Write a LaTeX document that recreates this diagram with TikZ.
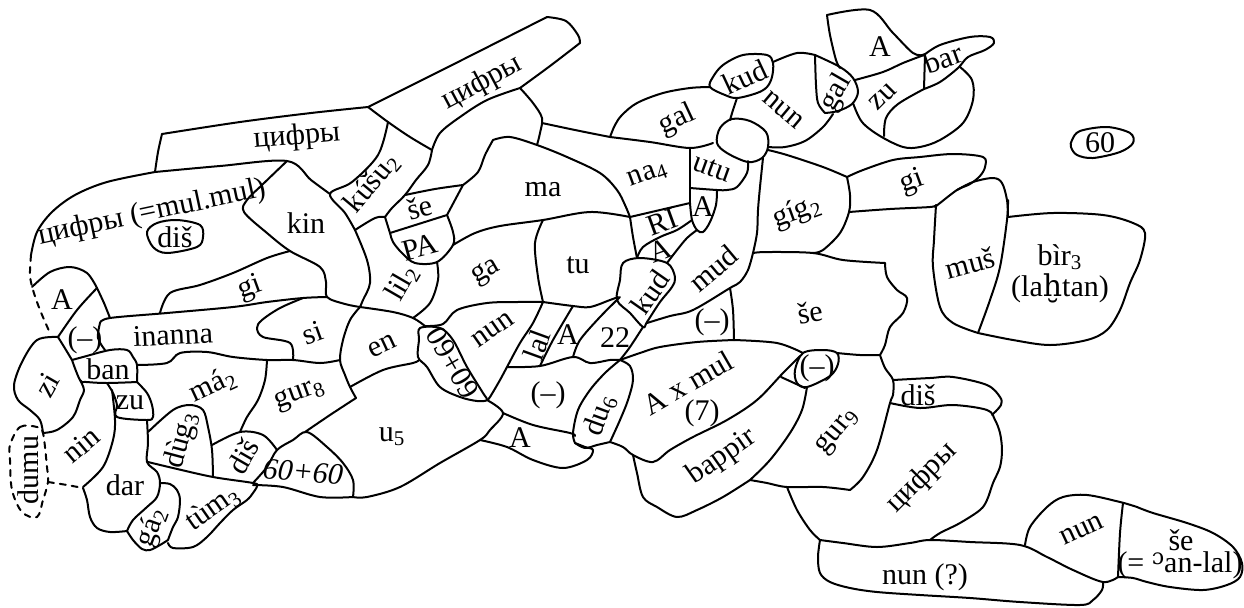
\documentclass[tikz,border=0pt]{standalone}
\usepackage{fontspec}
\setmainfont{Liberation Serif}
\newfontfamily\dvs{DejaVu Serif}
\newcommand\sbs[1]{\textsubscript{#1}}
\newcommand\pth[1]{\draw[ln] plot[smooth,tension=.55] coordinates {#1};}
\newcommand\pthc[1]{\draw[ln] plot[smooth cycle,tension=.55] coordinates {#1};}
\newcommand\pthd[1]{\draw[ln,dashed] plot[smooth,tension=.55] coordinates {#1};}
\newcommand\pthdc[1]{\draw[ln,dashed] plot[smooth cycle,tension=.55] coordinates {#1};}
\tikzset{
  ln/.style={line width=1pt,line join=round,line cap=round},
  lab/.style={font=\fontsize{15}{16}\selectfont,inner sep=0pt,align=center}
}
\begin{document}
\begin{tikzpicture}[x=0.5pt,y=-0.5pt]
\useasboundingbox (0,0) rectangle (1244,607);
% ---------- upper left bands
\pth{(155,172)(158,152)(162,134)}
\pth{(162,134)(240,122)(311,113)(368,107)}
\pth{(368,107)(460,61)(547,17)}
\pth{(547,17)(566,21)(578,35)(580,43)}
\pth{(580,43)(550,66)(520,88)}
\pth{(520,88)(487,100)(460,117)(440,133)(432,150)}
\pth{(368,107)(388,122)(410,137)(432,150)}
\pth{(388,122)(378,155)(352,182)(330,194)(345,213)(355,230)}
\pth{(155,172)(220,166)(287,161)(311,180)(330,194)}
\pth{(287,161)(262,185)(247,200)(244,212)(267,233)(290,251)(320,267)(326,282)(327,297)(345,304)(360,307)}
\pth{(355,230)(367,260)(370,283)(363,300)(360,307)}
\pth{(355,230)(375,218)(385,217)}
\pth{(432,150)(428,165)(416,180)(405,195)(392,208)(385,217)}
\pth{(385,217)(390,233)(393,242)(402,253)(415,263)(437,262)(453,245)(453,232)(447,215)}
\pth{(390,233)(447,215)}
\pth{(405,195)(435,189)(463,185)}
\pth{(463,185)(455,200)(447,215)}
\pth{(493,140)(485,155)(478,172)(463,185)}
\pth{(493,140)(510,137)(537,145)(567,157)(600,173)(617,190)(625,205)(630,217)}
\pth{(520,88)(533,103)(542,118)(540,133)(537,145)}
\pth{(542,123)(575,130)(610,137)}
\pth{(610,137)(650,142)(690,148)(713,143)}
\pth{(610,137)(615,125)(622,115)(637,103)(663,93)(690,88)(710,87)}
\pthc{(710,87)(713,77)(723,65)(743,55)(767,55)(773,63)(772,77)(767,87)(757,93)(737,98)(725,95)}
\pth{(737,98)(733,110)(730,120)}
\pthc{(717,143)(720,128)(732,119)(750,121)(766,132)(768,147)(762,158)(748,162)(727,153)}
\pth{(773,62)(797,53)(815,55)}
\pth{(815,55)(816,85)(818,103)(825,113)}
\pth{(815,55)(840,67)(853,78)(858,92)(852,104)(838,111)(825,113)}
\pth{(768,147)(785,147)(805,141)(823,127)(833,114)}
\pth{(827,15)(870,10)(893,33)(913,53)(924,55)}
\pth{(827,15)(830,35)(836,60)(840,68)}
\pth{(855,80)(883,72)(903,63)(924,55)}
\pth{(924,55)(940,45)(970,37)(990,37)(994,43)(985,50)(968,57)(958,68)(940,82)(924,89)}
\pth{(925,55)(924,89)}
\pth{(853,103)(862,122)(880,136)(903,147)(920,147)(940,140)(963,123)(973,100)(972,80)(960,67)}
\pth{(884,136)(886,118)(898,104)(924,89)}
\pthc{(1072,140)(1080,131)(1107,127)(1130,133)(1133,143)(1120,152)(1093,158)(1077,155)(1071,147)}
% ---------- middle
\pth{(748,161)(747,173)(737,187)(727,190)(717,190)(690,188)}
\pth{(690,148)(690,188)(690,203)}
\pth{(717,190)(716,205)(710,222)(703,232)(697,230)(692,220)(690,203)}
\pth{(630,217)(660,210)(690,203)}
\pth{(692,220)(677,230)(660,237)(643,247)(637,258)}
\pth{(697,230)(687,238)(677,250)(667,263)}
\pthc{(623,263)(640,258)(667,263)(675,277)(672,287)(660,302)(647,322)(643,327)(630,313)(617,300)(620,280)}
\pth{(630,217)(633,237)(637,258)}
\pth{(543,302)(573,306)(590,307)(610,300)(618,297)}
\pth{(543,220)(535,243)(538,277)(543,302)}
\pth{(453,245)(475,233)(500,226)(543,220)(590,212)(630,217)}
\pth{(437,262)(438,280)(430,303)(413,318)}
\pth{(360,307)(393,312)(413,318)(425,326)}
\pth{(425,326)(443,324)(457,310)(487,303)(517,302)(543,302)}
\pthc{(420,328)(440,328)(453,340)(467,367)(483,393)(487,400)(477,401)(460,397)(440,387)(427,367)(418,357)(419,340)}
\pth{(543,302)(533,323)(520,343)(507,367)(500,380)(490,397)(487,400)}
\pth{(573,306)(553,340)(540,366)}
\pth{(620,297)(600,317)(580,340)(573,357)}
\pth{(507,367)(540,366)(573,357)(590,363)(610,360)(620,360)}
\pth{(643,327)(630,347)(620,360)}
\pth{(647,323)(670,316)(693,310)(730,288)(740,282)(748,270)(753,253)}
\pth{(763,158)(760,187)(758,210)(757,233)(753,253)}
\pth{(768,150)(787,155)(823,167)(847,177)}
\pth{(847,177)(863,170)(893,160)(920,157)(953,154)(983,157)(985,167)(980,176)(970,184)(957,190)(940,203)(935,207)}
\pth{(847,177)(850,195)(849,212)(840,233)(823,250)(813,253)}
\pth{(849,212)(890,209)(930,207)(936,205)}
\pth{(957,190)(973,182)(993,178)(1002,183)(1007,200)(1008,217)}
\pth{(936,205)(934,240)(933,267)(940,307)(953,323)(978,333)}
\pth{(1008,200)(1007,220)(1000,267)(990,300)(978,333)}
\pth{(1008,217)(1053,213)(1103,215)(1133,223)(1145,233)(1140,260)(1130,283)(1120,310)(1107,330)(1087,340)(1050,345)(1013,340)(978,333)}
\pth{(753,253)(767,252)(813,253)(843,260)(885,263)}
\pth{(885,263)(887,277)(897,290)(907,298)(903,313)(890,327)(885,345)(880,355)}
\pth{(730,288)(733,310)(734,340)}
\pth{(734,340)(777,343)(803,353)}
\pth{(837,353)(860,355)(880,355)}
\pthc{(803,353)(823,350)(837,353)(838,364)(830,376)(807,387)(797,383)(795,370)}
\pth{(620,360)(640,353)(660,347)(697,342)(734,340)}
\pth{(620,360)(630,366)(633,380)(628,400)(620,420)(610,442)}
\pth{(620,360)(605,373)(590,390)(578,410)(573,433)(575,443)}
\pth{(575,443)(585,448)(597,445)(610,442)}
\pth{(610,442)(623,447)(633,455)(653,462)(670,450)(693,437)(727,420)(757,400)(783,373)(800,356)}
\pth{(781,377)(805,388)}
\pth{(633,455)(637,473)(643,497)(657,507)(677,517)(697,510)(723,497)(750,480)}
\pth{(807,387)(802,410)(790,433)(770,460)(750,480)}
\pth{(750,480)(767,483)(787,487)(823,487)(850,490)}
\pth{(787,487)(797,510)(810,530)(820,540)}
\pth{(880,355)(885,368)(893,380)(893,395)(890,403)(877,450)(863,477)(850,490)}
\pth{(893,380)(930,378)(953,377)(987,385)(1000,397)(1001,405)(992,415)}
\pth{(890,403)(920,408)(953,405)(987,410)(995,420)(1000,433)(1002,450)(1000,467)(993,483)(987,500)(980,510)(960,523)(940,533)(930,540)}
\pth{(820,540)(843,543)(877,547)(910,543)(930,540)(970,542)(1020,545)(1047,557)(1073,570)(1103,582)(1118,577)}
\pth{(820,540)(818,557)(820,573)(830,582)(850,588)(877,592)(920,595)(970,598)(1020,602)(1080,605)(1093,600)(1102,590)(1103,582)}
\pth{(1025,545)(1030,527)(1047,507)(1063,497)(1087,495)(1120,502)(1137,507)}
\pth{(1123,503)(1120,533)(1118,577)}
\pth{(1137,507)(1153,513)(1187,523)(1213,533)(1233,547)(1242,563)(1240,577)(1227,585)(1203,590)(1170,587)(1147,582)(1133,578)(1118,577)}
% ---------- left
\pthc{(147,232)(157,223)(177,220)(200,225)(203,237)(197,247)(167,253)(153,247)}
\pth{(155,172)(107,182)(75,195)(52,212)(37,232)(31,255)}
\pthd{(31,255)(30,275)(33,290)(40,310)(50,333)}
\pth{(32,287)(50,272)(70,267)(87,273)(97,288)}
\pth{(97,288)(104,303)(110,318)}
\pth{(97,288)(77,310)(58,337)}
\pth{(160,313)(170,293)(200,285)(233,273)(267,258)(290,251)}
\pth{(100,323)(110,318)(167,313)(233,307)(267,302)(303,298)(327,297)}
\pth{(100,323)(98,338)(105,350)}
\pth{(72,360)(83,357)(110,350)(127,350)(133,357)(137,365)(137,382)}
\pth{(137,365)(167,363)(180,353)(207,352)(233,357)(267,360)(293,360)(320,363)(340,360)}
\pth{(303,298)(280,308)(262,320)(257,328)(263,337)(290,343)(293,360)}
\pth{(360,307)(350,320)(343,340)(340,360)(345,375)(350,387)(356,398)}
\pth{(267,360)(265,380)(258,400)(247,417)(240,432)}
\pth{(137,382)(107,383)(87,382)(80,380)(72,360)}
\pth{(107,383)(113,393)(117,405)(117,417)(147,420)(153,417)(152,405)(147,393)(137,382)}
\pth{(58,337)(37,340)(22,362)(14,385)(18,400)(30,410)(40,420)(43,433)}
\pth{(58,337)(66,350)(72,360)}
\pth{(80,380)(84,390)(80,400)(73,417)(57,430)(43,433)}
\pthdc{(10,445)(20,427)(37,427)(43,433)(47,467)(48,482)(43,500)(37,517)(22,512)(12,490)(10,460)}
\pth{(112,390)(115,420)(113,440)(103,467)(83,487)}
\pthd{(48,482)(67,485)(83,488)}
\pth{(83,488)(87,500)(90,517)(97,528)(110,532)(127,531)}
\pth{(147,420)(148,443)(147,462)(157,472)(160,483)(157,497)(147,507)(133,520)(127,531)}
\pth{(127,531)(133,540)(142,549)(150,550)(160,545)(168,540)}
\pth{(160,483)(170,484)(177,490)(180,500)(178,517)(173,527)(168,540)}
\pth{(148,462)(173,468)(213,477)(253,483)(257,486)(253,493)(247,500)(233,510)(220,523)(207,537)(193,547)(173,548)(168,543)}
\pth{(148,432)(173,410)(190,405)(203,410)(208,427)(212,450)(213,477)}
\pth{(212,445)(240,432)(263,435)(277,450)}
\pth{(253,483)(267,467)(277,450)(293,440)(307,432)(327,447)(343,463)(353,480)(353,497)}
\pth{(253,485)(283,487)(320,497)(353,497)}
\pth{(305,432)(330,415)(356,398)}
\pth{(350,387)(383,370)(413,363)(419,360)}
\pth{(487,400)(503,413)(490,430)(480,440)(440,463)(400,487)(367,497)(353,497)}
\pth{(503,413)(533,425)(570,433)(575,436)}
\pth{(480,440)(507,447)(533,460)(563,468)(587,460)(593,450)(585,447)(575,443)}
% ---------- labels
\node[lab,rotate=5] (t1) at (297,137) {цифры};
\node[lab,rotate=28] (t2) at (482,83) {цифры};
\node[lab,rotate=12] (t3) at (152,213) {цифры (=mul.mul)};
\node[lab] (t4) at (175,237) {diš};
\node[lab] (t5) at (306,223) {kin};
\node[lab,rotate=50] (t6) at (372,183) {kúšu\sbs{2}};
\node[lab,rotate=15] (t7) at (420,207) {še};
\node[lab,rotate=15] (t8) at (420,247) {PA};
\node[lab] (t9) at (543,190) {ma};
\node[lab,rotate=60] (t10) at (402,283) {lil\sbs{2}};
\node[lab,rotate=30] (t11) at (487,273) {ga};
\node[lab] (t12) at (578,265) {tu};
\node[lab,rotate=20] (t13) at (648,175) {na\sbs{4}};
\node[lab,rotate=-20] (t14) at (712,168) {utu};
\node[lab,rotate=20] (t15) at (662,222) {RI};
\node[lab] (t16) at (703,207) {A};
\node[lab,rotate=20] (t17) at (660,250) {A};
\node[lab,rotate=55] (t18) at (650,292) {kud};
\node[lab,rotate=40] (t19) at (713,268) {mud};
\node[lab,rotate=20] (t20) at (250,288) {gi};
\node[lab] (t21) at (62,300) {A};
\node[lab] (t22) at (85,340) {(–)};
\node[lab,rotate=3] (t23) at (173,335) {inanna};
\node[lab,rotate=20] (t24) at (313,333) {si};
\node[lab,rotate=25] (t25) at (382,346) {en};
\node[lab,rotate=120] (t26) at (453,363) {60+60};
\node[lab,rotate=35] (t27) at (493,330) {nun};
\node[lab,rotate=70] (t28) at (537,345) {lal};
\node[lab] (t29) at (568,335) {A};
\node[lab] (t30) at (615,338) {22};
\node[lab] (t31) at (712,322) {(–)};
\node[lab,rotate=10] (t32) at (810,312) {še};
\node[lab] (t33) at (548,395) {(–)};
\node[lab] (t34) at (520,438) {A};
\node[lab,rotate=70] (t35) at (600,415) {du\sbs{6}};
\node[lab,rotate=30] (t36) at (688,383) {A x mul};
\node[lab] (t37) at (702,413) {(7)};
\node[lab] (t38) at (817,368) {(–)};
\node[lab,rotate=50] (t39) at (838,432) {gur\sbs{9}};
\node[lab] (t40) at (918,395) {diš};
\node[lab,rotate=35] (t41) at (722,457) {bappir};
\node[lab,rotate=45] (t42) at (922,478) {цифры};
\node[lab] (t43) at (925,577) {nun (?)};
\node[lab,rotate=25] (t44) at (1082,530) {nun};
\node[lab] (t45) at (1181,540) {še};
\node[lab] (t46) at (1180,565) {(= {\dvs\raisebox{.5ex}{\fontsize{11}{11}\selectfont ɔ}}an-lal)};
\node[lab] (t47) at (1100,143) {60};
\node[lab,rotate=20] (t48) at (912,182) {gi};
\node[lab,rotate=20] (t49) at (797,212) {gíg\sbs{2}};
\node[lab,rotate=15] (t50) at (970,263) {muš};
\node[lab] (t51) at (1060,257) {bìr\sbs{3}};
\node[lab] (t52) at (1060,288) {(la{\dvs ḫ}tan)};
\node[lab,rotate=25] (t53) at (677,120) {gal};
\node[lab,rotate=25] (t54) at (745,77) {kud};
\node[lab,rotate=-40] (t55) at (783,110) {nun};
\node[lab,rotate=60] (t56) at (836,93) {gal};
\node[lab] (t57) at (880,47) {A};
\node[lab,rotate=45] (t58) at (883,97) {zu};
\node[lab,rotate=20] (t59) at (943,58) {bar};
\node[lab,rotate=60] (t60) at (47,385) {zi};
\node[lab] (t61) at (108,369) {ban};
\node[lab] (t62) at (130,403) {zu};
\node[lab,rotate=25] (t63) at (213,385) {má\sbs{2}};
\node[lab,rotate=75] (t64) at (182,440) {dùg\sbs{3}};
\node[lab,rotate=60] (t65) at (243,456) {diš};
\node[lab,rotate=-5,font=\fontsize{15}{16}\selectfont\itshape] (t66) at (303,472) {60+60};
\node[lab,rotate=35] (t67) at (213,508) {tùm\sbs{3}};
\node[lab,rotate=70] (t68) at (152,527) {gá\sbs{2}};
\node[lab] (t69) at (125,485) {dar};
\node[lab,rotate=40] (t70) at (81,445) {nin};
\node[lab,rotate=90] (t71) at (28,470) {dumu};
\node[lab,rotate=20] (t72) at (300,395) {gur\sbs{8}};
\node[lab] (t73) at (392,437) {u\sbs{5}};
\end{tikzpicture}
\end{document}
